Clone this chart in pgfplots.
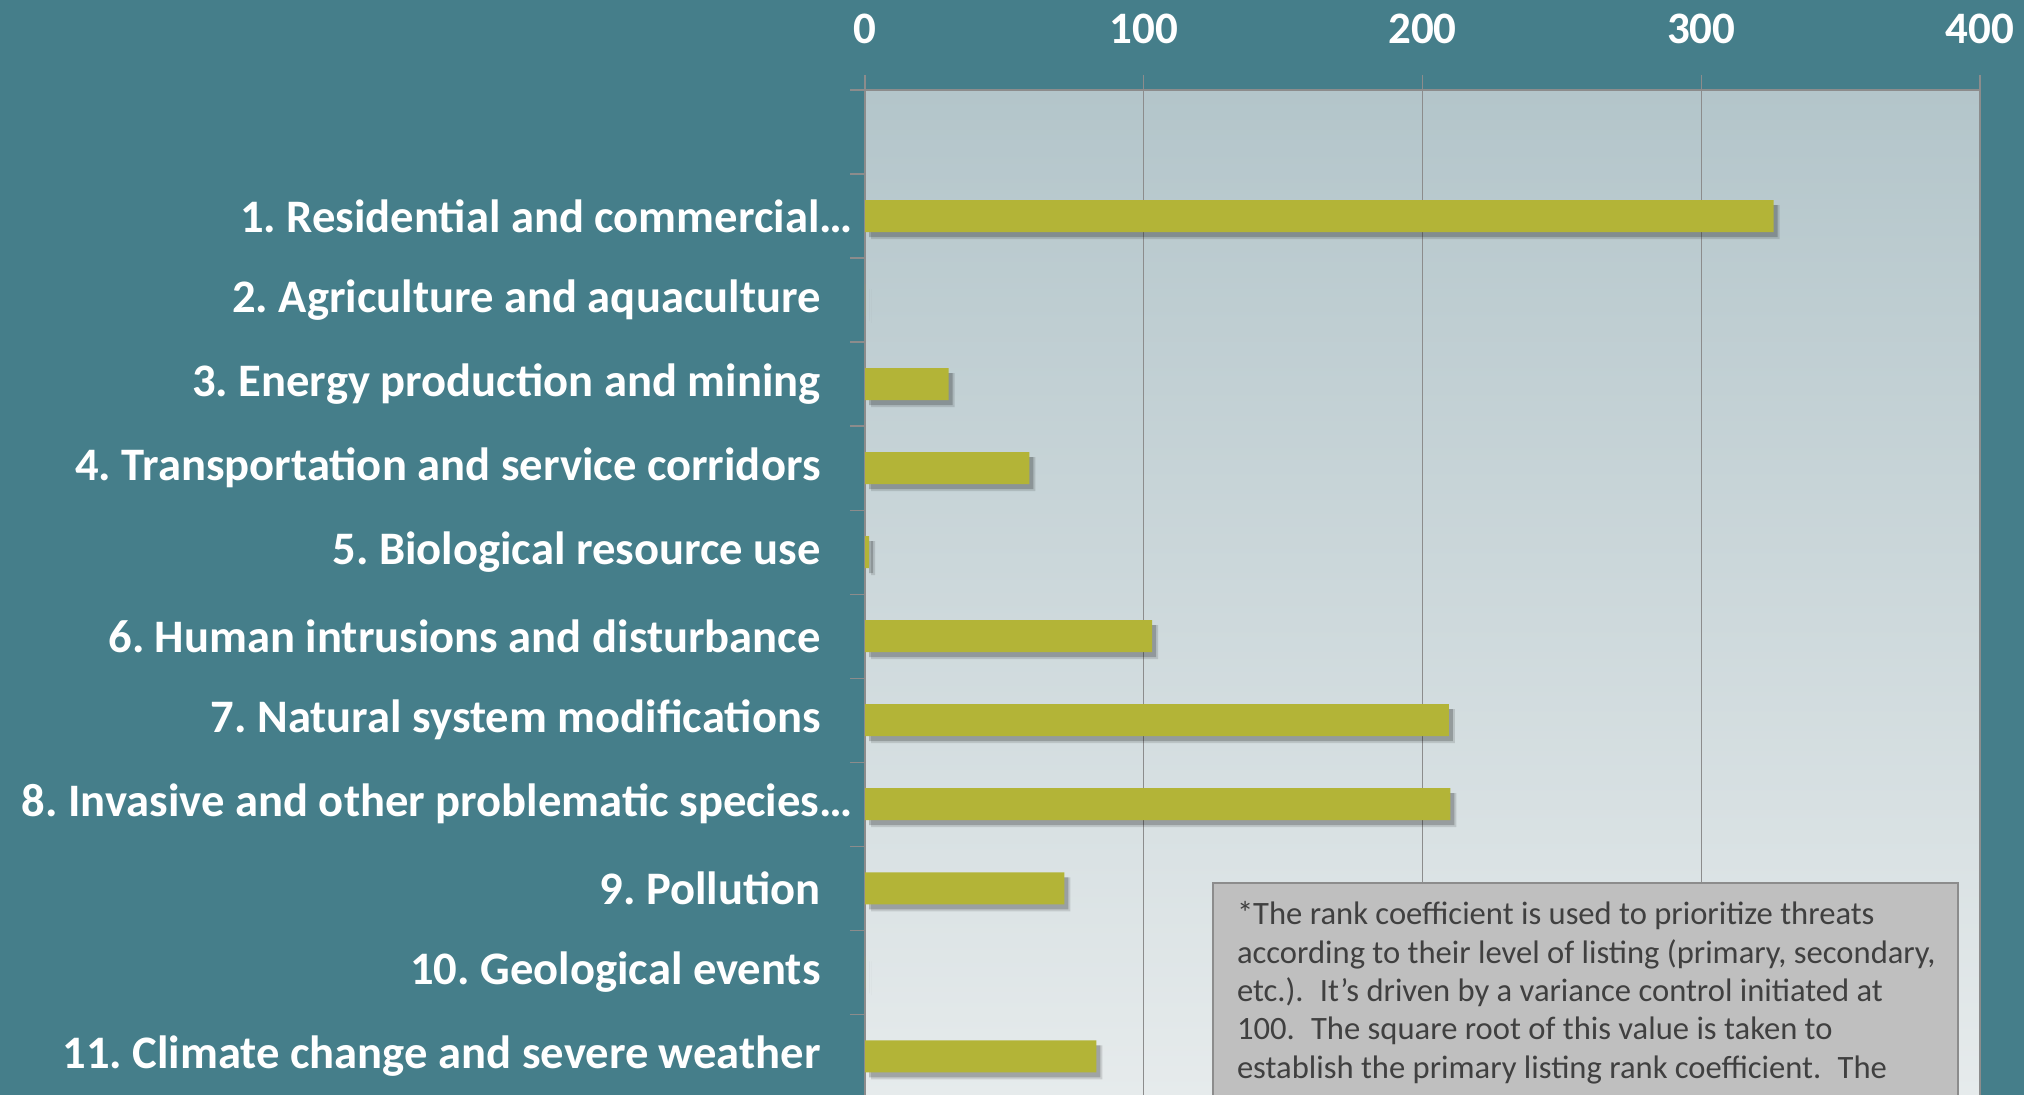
\documentclass[border=0pt]{standalone}
\usepackage{fontspec}
\setmainfont{Carlito}
\frenchspacing
\usepackage{pgfplots}
\pgfplotsset{compat=1.18}
\definecolor{bgteal}{HTML}{457E8A}
\definecolor{barolive}{HTML}{B3B437}
\definecolor{gridgray}{HTML}{8C8C8C}
\definecolor{plottop}{HTML}{B3C5CA}
\definecolor{plotbot}{HTML}{E6EBEC}
\definecolor{boxfill}{HTML}{BFBFBF}
\definecolor{boxtext}{HTML}{404040}
\begin{document}
\begin{tikzpicture}
\useasboundingbox (0,0) rectangle (1012pt,547.5pt);
\clip (0,0) rectangle (1012pt,547.5pt);
\fill[bgteal] (0,0) rectangle (1012pt,547.5pt);
\begin{axis}[
  at={(432.5pt,0pt)}, anchor=south west,
  scale only axis, width=557.5pt, height=502.5pt,
  xmin=0, xmax=400, ymin=0.54, ymax=12.5,
  axis x line*=top, axis y line*=left,
  axis line style={gridgray, line width=0.9pt, -},
  axis background/.style={shade, top color=plottop, bottom color=plotbot},
  xtick={0,100,200,300,400}, xmajorgrids,
  grid style={gridgray, line width=0.6pt},
  tick align=outside, major tick length=7.5pt,
  tick style={gridgray, line width=0.6pt},
  /pgf/number format/assume math mode=true,
  xticklabel style={font=\bfseries\fontsize{22.5}{27}\selectfont, text=white, anchor=south, inner sep=0pt, yshift=15.5pt},
  ytick={1.5,2.5,...,12.5}, yticklabels={},
  extra y ticks={1,2,3,4,5,6,7,8,9,10,11},
  extra y tick style={major tick length=0pt, tick style={draw=none},
    yticklabel style={font=\bfseries\fontsize{23.3}{28}\selectfont, text=white, anchor=east, inner sep=0pt, xshift=-6pt}},
  extra y tick labels={
    11. Climate change and severe weather\hspace*{16pt},
    10. Geological events\hspace*{16pt},
    9. Pollution\hspace*{16pt},
    8. Invasive and other problematic species…,
    7. Natural system modifications\hspace*{16pt},
    6. Human intrusions and disturbance\hspace*{16pt},
    5. Biological resource use\hspace*{16pt},
    4. Transportation and service corridors\hspace*{16pt},
    3. Energy production and mining\hspace*{16pt},
    2. Agriculture and aquaculture\hspace*{16pt},
    1. Residential and commercial…},
]
% soft shadow behind the bars
\addplot[xbar, bar shift=0pt, bar width=17pt, fill=black, opacity=0.12, draw=none, xshift=3pt, yshift=-3pt]
  coordinates {(326,11) (0,10) (30,9) (59,8) (1.5,7) (103,6) (209.5,5) (210,4) (71.5,3) (0,2) (83,1)};
\addplot[xbar, bar shift=0pt, bar width=16pt, fill=black, opacity=0.2, draw=none, xshift=2pt, yshift=-2.5pt]
  coordinates {(326,11) (0,10) (30,9) (59,8) (1.5,7) (103,6) (209.5,5) (210,4) (71.5,3) (0,2) (83,1)};
\addplot[xbar, bar shift=0pt, bar width=16pt, fill=barolive, draw=none]
  coordinates {(326,11) (0,10) (30,9) (59,8) (1.5,7) (103,6) (209.5,5) (210,4) (71.5,3) (0,2) (83,1)};
\end{axis}
\filldraw[fill=boxfill, draw=gridgray, line width=0.8pt] (606.5pt,106pt) rectangle (979pt,-10pt);
\begin{scope}[every node/.style={anchor=base west, inner sep=0pt, text=boxtext, font=\fontsize{16.3}{19.2}\selectfont}]
\node at (618.3pt,85pt) {*The rank coefficient is used to prioritize threats};
\node at (618.3pt,65.85pt) {according to their level of listing (primary, secondary,};
\node at (618.3pt,46.7pt) {etc.).\hspace{0.5em}It’s driven by a variance control initiated at};
\node at (618.3pt,27.55pt) {100.\hspace{0.5em}The square root of this value is taken to};
\node at (618.3pt,8.4pt) {establish the primary listing rank coefficient.\hspace{0.5em}The};
\end{scope}
\end{tikzpicture}
\end{document}
